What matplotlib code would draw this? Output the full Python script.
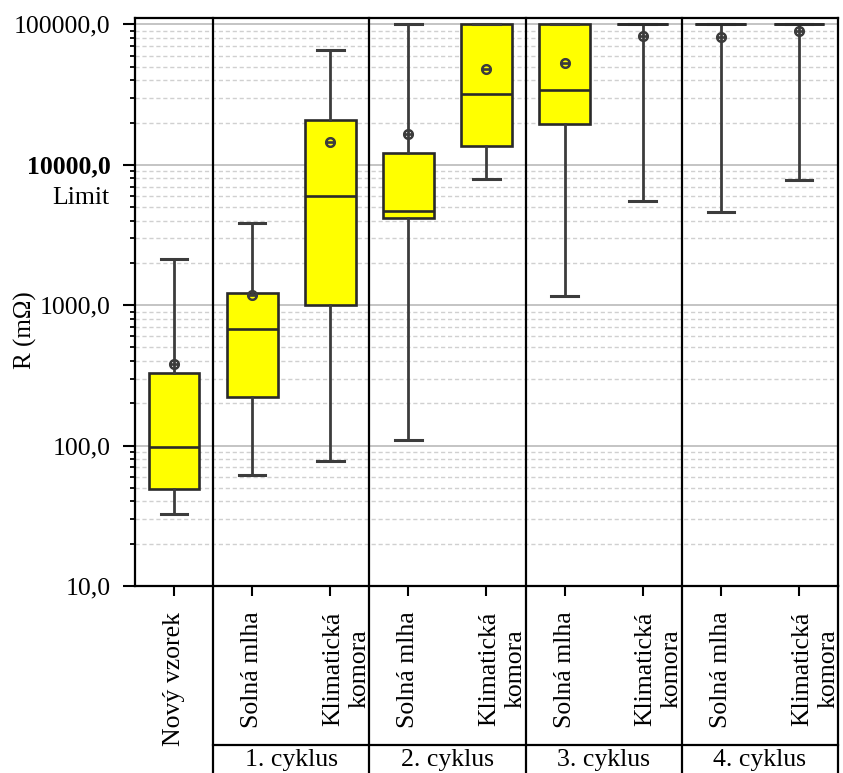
import matplotlib
matplotlib.use("Agg")
import matplotlib.pyplot as plt
from matplotlib.ticker import NullFormatter, LogLocator
from matplotlib.transforms import offset_copy

plt.rcParams['font.family'] = ['Liberation Serif', 'DejaVu Serif']

# kategorie (osa x)
categories = ['Nový vzorek',
              'Solná mlha', 'Klimatická\nkomora',
              'Solná mlha', 'Klimatická\nkomora',
              'Solná mlha', 'Klimatická\nkomora',
              'Solná mlha', 'Klimatická\nkomora']
cycles = ['1. cyklus', '2. cyklus', '3. cyklus', '4. cyklus']

# hodnoty (mOhm)
whislo = [32.8, 61.5, 78, 109, 7950, 1155, 5540, 4610, 7790]
q1 = [49.4, 221, 1000, 4180, 13500, 19600, 100000, 100000, 100000]
med = [98, 677, 5950, 4700, 31900, 34200, 100000, 100000, 100000]
q3 = [329, 1222, 20900, 12100, 100000, 100000, 100000, 100000, 100000]
whishi = [2130, 3870, 65900, 100000, 100000, 100000, 100000, 100000, 100000]
means = [384, 1190, 14500, 16500, 48000, 52900, 83200, 81100, 89900]

ytick_values = [10, 100, 1000, 10000, 100000]
ytick_labels = ['10,0', '100,0', '1000,0', '10000,0', '100000,0']
limit_label = 'Limit'
ylabel = 'R (mΩ)'

fig = plt.figure(figsize=(8.43, 7.73), dpi=100)
ax = fig.add_axes([135 / 843, 1 - 586 / 773, 703 / 843, 568 / 773])

stats = []
for i in range(len(categories)):
    stats.append(dict(med=med[i], q1=q1[i], q3=q3[i], whislo=whislo[i],
                      whishi=whishi[i], mean=means[i], fliers=[]))

ax.bxp(stats, positions=range(len(categories)), widths=0.65, capwidths=0.34,
       patch_artist=True, showmeans=True, showfliers=False,
       boxprops=dict(facecolor='#ffff00', edgecolor='#2a2a2a', linewidth=1.9),
       medianprops=dict(color='#2a2a2a', linewidth=1.9),
       whiskerprops=dict(color='#3c3c3c', linewidth=2.0),
       capprops=dict(color='#3c3c3c', linewidth=2.2),
       meanprops=dict(marker=r'$\ominus$', markerfacecolor='#3c3c3c',
                      markeredgecolor='#3c3c3c', markersize=7))

ax.set_yscale('log')
ax.set_ylim(10, 111000)
ax.set_xlim(-0.5, len(categories) - 0.5)

ax.yaxis.set_minor_locator(LogLocator(base=10, subs=range(2, 10)))
ax.yaxis.set_minor_formatter(NullFormatter())
ax.set_yticks(ytick_values)
ax.set_yticklabels(ytick_labels)
ax.get_yticklabels()[3].set_fontweight('bold')
ax.tick_params(axis='y', which='major', labelsize=18.5, length=8.6, width=1.5, pad=9)
ax.tick_params(axis='y', which='minor', length=3.6, width=1.3)
ax.set_xticks(range(len(categories)))
ax.set_xticklabels([])
ax.tick_params(axis='x', length=7, width=1.5)

ax.grid(which='major', axis='y', color='#c4c4c4', linewidth=1.4, zorder=0)
ax.grid(which='minor', axis='y', color='#d0d0d0', linewidth=1.0,
        linestyle=(0, (3, 2)), zorder=0)
ax.set_axisbelow(True)
for s in ax.spines.values():
    s.set_linewidth(1.6)

# "Limit" pod 10000,0
lim_tr = offset_copy(ax.get_yaxis_transform(), fig=fig, x=-0.5, y=-24, units='points')
ax.text(-0.035, 10000, limit_label, transform=lim_tr, ha='right', va='center',
        fontsize=18.5)

fig.text(25 / 843, 1 - 330 / 773, ylabel, rotation=90, ha='center', va='center',
         fontsize=18)

# popisky kategorii
xtr = ax.get_xaxis_transform()
for i, lab in enumerate(categories):
    tr = xtr
    if '\n' in lab:
        tr = offset_copy(xtr, fig=fig, x=11.5, y=0, units='points')
    ax.text(i, -0.045, lab, transform=tr, rotation=90, ha='center', va='top',
            fontsize=18.5, multialignment='center', linespacing=1.25)

# oddelovace cyklu
for x in [0.5, 2.5, 4.5, 6.5]:
    ax.plot([x, x], [1, -0.35], transform=xtr, color='black', lw=1.6, clip_on=False)
ax.plot([8.5, 8.5], [0, -0.35], transform=xtr, color='black', lw=1.6, clip_on=False)
ax.plot([0.5, 8.5], [-0.280, -0.280], transform=xtr, color='black', lw=1.6, clip_on=False)

for k, c in enumerate(cycles):
    ax.text(1.5 + 2 * k, -0.306, c, transform=xtr, ha='center', va='center',
            fontsize=18.5)

fig.savefig('out.png', dpi=100)
